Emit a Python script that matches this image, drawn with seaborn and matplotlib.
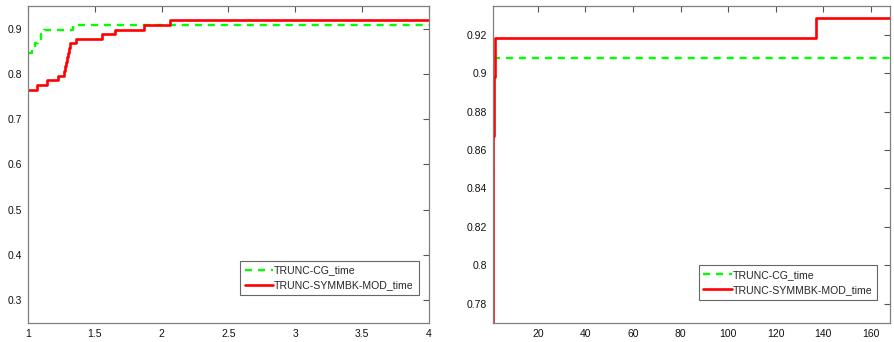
import matplotlib
matplotlib.use('Agg')
import matplotlib.pyplot as plt
import matplotlib.ticker as mticker
import seaborn as sns
import pandas as pd

# performance profile data (98 problems)
n_problems = 98
cg_tau = [1.0, 1.03, 1.05, 1.075, 1.10, 1.12, 1.34, 168.0]
cg_solved = [83, 84, 85, 86, 87, 88, 89, 89]
sym_tau = [1.0, 1.065, 1.139, 1.224, 1.272, 1.279, 1.286, 1.293, 1.300, 1.306, 1.313,
           1.363, 1.555, 1.65, 1.87, 2.06, 137.0, 168.0]
sym_solved = [75, 76, 77, 78, 79, 80, 81, 82, 83, 84, 85, 86, 87, 88, 89, 90, 91, 91]

labels = ['TRUNC-CG_time', 'TRUNC-SYMMBK-MOD_time']

cg = pd.DataFrame({'tau': cg_tau, 'frac': [s / n_problems for s in cg_solved]})
sym = pd.DataFrame({'tau': sym_tau, 'frac': [s / n_problems for s in sym_solved]})

sns.set_style('white')
plt.rcParams['font.family'] = ['Liberation Sans', 'DejaVu Sans']

fig = plt.figure(figsize=(8.94, 3.42), dpi=100)
ax1 = fig.add_axes([0.0313, 0.0556, 0.4485, 0.927])
ax2 = fig.add_axes([0.5511, 0.0556, 0.4444, 0.927])

for ax in (ax1, ax2):
    sns.lineplot(data=cg, x='tau', y='frac', ax=ax, color='#00ff00', lw=1.7,
                 linestyle=(0, (3, 2.5)), drawstyle='steps-post', estimator=None,
                 label=labels[0])
    sns.lineplot(data=sym, x='tau', y='frac', ax=ax, color='#ff0000', lw=1.9,
                 drawstyle='steps-post', estimator=None, label=labels[1])
    ax.set_xlabel('')
    ax.set_ylabel('')
    for sp in ax.spines.values():
        sp.set_color('#7f7f7f')
        sp.set_linewidth(0.9)
    ax.tick_params(direction='in', length=4, width=0.8, color='#555555',
                   labelsize=7.5, top=True, right=True, pad=4, labelcolor='#111111')
    ax.xaxis.set_major_formatter(mticker.FormatStrFormatter('%g'))
    ax.yaxis.set_major_formatter(mticker.FormatStrFormatter('%g'))

ax1.set_xlim(1, 4)
ax1.set_ylim(0.25, 0.95)
ax1.set_xticks([1, 1.5, 2, 2.5, 3, 3.5, 4])
ax1.set_yticks([0.3, 0.4, 0.5, 0.6, 0.7, 0.8, 0.9])

ax2.set_xlim(1, 168)
ax2.set_ylim(0.77, 0.935)
ax2.set_xticks([20, 40, 60, 80, 100, 120, 140, 160])
ax2.set_yticks([0.78, 0.80, 0.82, 0.84, 0.86, 0.88, 0.90, 0.92])

for ax, anchor in ((ax1, (0.974, 0.088)), (ax2, (0.968, 0.0735))):
    leg = ax.legend(loc='lower right', bbox_to_anchor=anchor, fontsize=7.6,
                    frameon=True, fancybox=False, shadow=False, borderpad=0.45,
                    handlelength=2.7, handletextpad=0.1, labelspacing=0.45,
                    borderaxespad=0)
    leg.get_frame().set_edgecolor('#404040')
    leg.get_frame().set_linewidth(0.8)

fig.savefig('out.png', dpi=100)
